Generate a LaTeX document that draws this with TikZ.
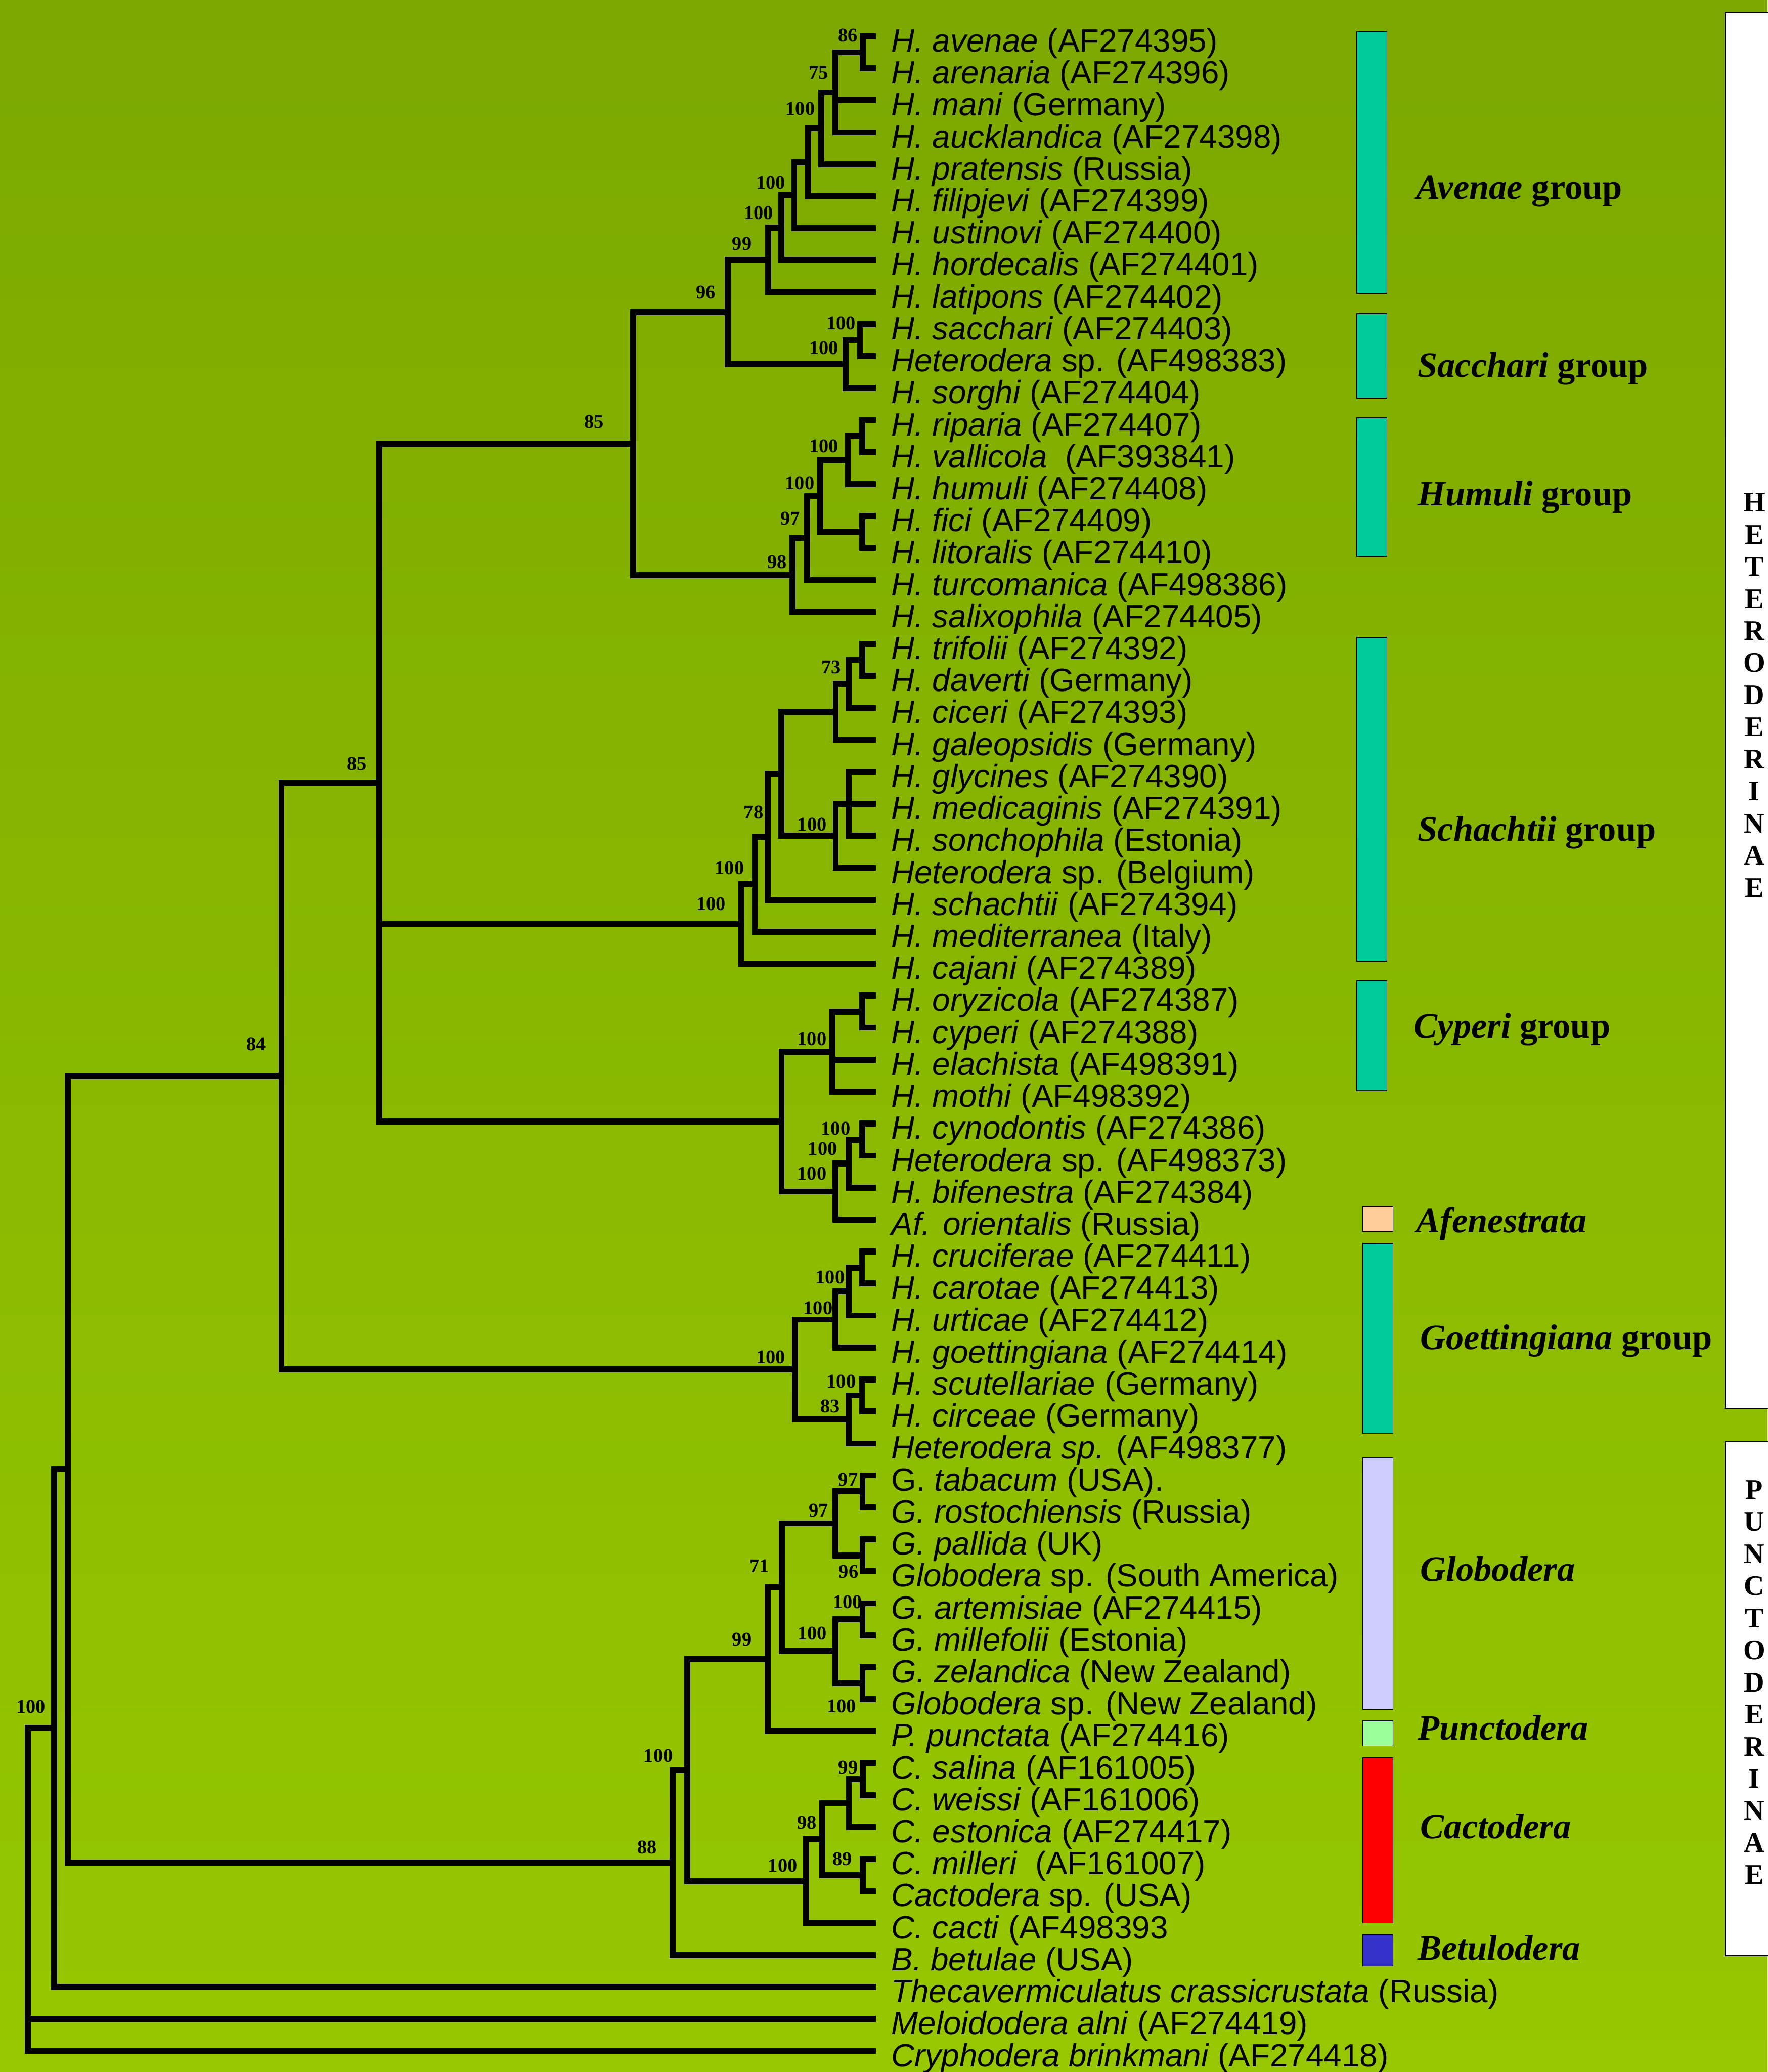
\documentclass[tikz,border=0pt]{standalone}
\usepackage{fontspec}
\setmainfont{Liberation Serif}
\newfontfamily\leaffont{Liberation Sans}
\usetikzlibrary{positioning}
\definecolor{bgTop}{RGB}{124,168,0}
\definecolor{bgBottom}{RGB}{150,199,0}
\definecolor{barTeal}{RGB}{0,204,153}
\definecolor{afenPeach}{RGB}{255,204,153}
\definecolor{globoLavender}{RGB}{204,204,255}
\definecolor{punctoMint}{RGB}{153,255,153}
\definecolor{cactoRed}{RGB}{255,0,0}
\definecolor{betuloBlue}{RGB}{51,51,204}
\tikzset{
  treeBranch/.style={line width=4.5pt, line join=miter},
  leafLabel/.style={anchor=west, inner xsep=11.5pt, inner ysep=0pt, text height=23.4pt, text depth=0pt, font=\leaffont\fontsize{24.4}{24.4}\selectfont},
  bootLabel/.style={inner sep=0pt, font=\bfseries\fontsize{14.7}{14.7}\selectfont},
  groupBar/.style={draw=black, line width=0.6pt, anchor=north west, inner sep=0pt, minimum width=22.7pt},
  groupLabel/.style={anchor=base west, inner sep=0pt, font=\bfseries\fontsize{27}{27}\selectfont},
  subfamilyBox/.style={draw=black, fill=white, line width=0.8pt, anchor=north west, inner sep=0pt, minimum width=45pt},
  subfamilyLetter/.style={inner sep=0pt, align=center, font=\bfseries\fontsize{21.5}{24.3}\selectfont}
}
\begin{document}
\begin{tikzpicture}[x=1pt, y=-1pt]
  \useasboundingbox (0,0) rectangle (1338,1568);
  \shade[top color=bgTop, bottom color=bgBottom] (0,0) rectangle (1338,1568);

  % subfamily boxes
  \node[subfamilyBox, minimum height=1056pt] (hetBox) at (1305.2,9.3) {};
  \node[subfamilyBox, minimum height=388.9pt] (punBox) at (1305.2,1090.6) {};
  \node[subfamilyLetter] (hetName) at (1327.9,526) {H\\E\\T\\E\\R\\O\\D\\E\\R\\I\\N\\A\\E};
  \node[subfamilyLetter] (punName) at (1327.9,1273.1) {P\\U\\N\\C\\T\\O\\D\\E\\R\\I\\N\\A\\E};

  % group bars and names
  \node[groupBar, fill=barTeal, minimum height=198pt] (avenaeBar) at (1026.8,23.7) {};
  \node[groupBar, fill=barTeal, minimum height=64pt] (sacchariBar) at (1026.8,237) {};
  \node[groupBar, fill=barTeal, minimum height=105pt] (humuliBar) at (1026.8,316) {};
  \node[groupBar, fill=barTeal, minimum height=245pt] (schachtiiBar) at (1026.8,482) {};
  \node[groupBar, fill=barTeal, minimum height=83pt] (cyperiBar) at (1026.8,742) {};
  \node[groupBar, fill=afenPeach, minimum height=18.8pt] (afenBox) at (1031.4,912.8) {};
  \node[groupBar, fill=barTeal, minimum height=143.7pt] (goettBar) at (1031.4,940.7) {};
  \node[groupBar, fill=globoLavender, minimum height=190.4pt] (globoBar) at (1031.4,1102.8) {};
  \node[groupBar, fill=punctoMint, minimum height=18.9pt] (punctoBox) at (1031.4,1302) {};
  \node[groupBar, fill=cactoRed, minimum height=125.2pt] (cactoBar) at (1031.4,1329.7) {};
  \node[groupBar, fill=betuloBlue, minimum height=23.5pt] (betuloBox) at (1031.4,1464) {};

  \node[groupLabel] (avenaeName) at (1072,150.5) {\textit{Avenae} group};
  \node[groupLabel] (sacchariName) at (1073,285.5) {\textit{Sacchari} group};
  \node[groupLabel] (humuliName) at (1073,382.5) {\textit{Humuli} group};
  \node[groupLabel] (schachtiiName) at (1073,636.5) {\textit{Schachtii} group};
  \node[groupLabel] (cyperiName) at (1070,785.5) {\textit{Cyperi} group};
  \node[groupLabel] (afenName) at (1072,932.9) {\textit{Afenestrata}};
  \node[groupLabel] (goettName) at (1075,1021.1) {\textit{Goettingiana} group};
  \node[groupLabel] (globoName) at (1075,1196.3) {\textit{Globodera}};
  \node[groupLabel] (punctoName) at (1073,1316.7) {\textit{Punctodera}};
  \node[groupLabel] (cactoName) at (1075,1391.2) {\textit{Cactodera}};
  \node[groupLabel] (betuloName) at (1073,1483.3) {\textit{Betulodera}};

  % taxa
  \node[leafLabel] (l1) at (663,27.5) {\textit{H. avenae} (AF274395)};
  \node[leafLabel] (l2) at (663,51.7) {\textit{H. arenaria} (AF274396)};
  \node[leafLabel] (l3) at (663,75.9) {\textit{H. mani} (Germany)};
  \node[leafLabel] (l4) at (663,100.1) {\textit{H. aucklandica} (AF274398)};
  \node[leafLabel] (l5) at (663,124.3) {\textit{H. pratensis} (Russia)};
  \node[leafLabel] (l6) at (663,148.5) {\textit{H. filipjevi} (AF274399)};
  \node[leafLabel] (l7) at (663,172.7) {\textit{H. ustinovi} (AF274400)};
  \node[leafLabel] (l8) at (663,196.9) {\textit{H. hordecalis} (AF274401)};
  \node[leafLabel] (l9) at (663,221.1) {\textit{H. latipons} (AF274402)};
  \node[leafLabel] (l10) at (663,245.3) {\textit{H. sacchari} (AF274403)};
  \node[leafLabel] (l11) at (663,269.5) {\textit{Heterodera} sp. (AF498383)};
  \node[leafLabel] (l12) at (663,293.7) {\textit{H. sorghi} (AF274404)};
  \node[leafLabel] (l13) at (663,317.9) {\textit{H. riparia} (AF274407)};
  \node[leafLabel] (l14) at (663,342.1) {\textit{H. vallicola}\ \ (AF393841)};
  \node[leafLabel] (l15) at (663,366.3) {\textit{H. humuli} (AF274408)};
  \node[leafLabel] (l16) at (663,390.5) {\textit{H. fici} (AF274409)};
  \node[leafLabel] (l17) at (663,414.7) {\textit{H. litoralis} (AF274410)};
  \node[leafLabel] (l18) at (663,438.9) {\textit{H. turcomanica} (AF498386)};
  \node[leafLabel] (l19) at (663,463.1) {\textit{H. salixophila} (AF274405)};
  \node[leafLabel] (l20) at (663,487.3) {\textit{H. trifolii} (AF274392)};
  \node[leafLabel] (l21) at (663,511.5) {\textit{H. daverti} (Germany)};
  \node[leafLabel] (l22) at (663,535.7) {\textit{H. ciceri} (AF274393)};
  \node[leafLabel] (l23) at (663,559.9) {\textit{H. galeopsidis} (Germany)};
  \node[leafLabel] (l24) at (663,584.1) {\textit{H. glycines} (AF274390)};
  \node[leafLabel] (l25) at (663,608.3) {\textit{H. medicaginis} (AF274391)};
  \node[leafLabel] (l26) at (663,632.5) {\textit{H. sonchophila} (Estonia)};
  \node[leafLabel] (l27) at (663,656.7) {\textit{Heterodera} sp. (Belgium)};
  \node[leafLabel] (l28) at (663,680.9) {\textit{H. schachtii} (AF274394)};
  \node[leafLabel] (l29) at (663,705.1) {\textit{H. mediterranea} (Italy)};
  \node[leafLabel] (l30) at (663,729.3) {\textit{H. cajani} (AF274389)};
  \node[leafLabel] (l31) at (663,753.5) {\textit{H. oryzicola} (AF274387)};
  \node[leafLabel] (l32) at (663,777.7) {\textit{H. cyperi} (AF274388)};
  \node[leafLabel] (l33) at (663,801.9) {\textit{H. elachista} (AF498391)};
  \node[leafLabel] (l34) at (663,826.1) {\textit{H. mothi} (AF498392)};
  \node[leafLabel] (l35) at (663,850.3) {\textit{H. cynodontis} (AF274386)};
  \node[leafLabel] (l36) at (663,874.5) {\textit{Heterodera} sp. (AF498373)};
  \node[leafLabel] (l37) at (663,898.7) {\textit{H. bifenestra} (AF274384)};
  \node[leafLabel] (l38) at (663,922.9) {\textit{Af. orientalis} (Russia)};
  \node[leafLabel] (l39) at (663,947.1) {\textit{H. cruciferae} (AF274411)};
  \node[leafLabel] (l40) at (663,971.3) {\textit{H. carotae} (AF274413)};
  \node[leafLabel] (l41) at (663,995.5) {\textit{H. urticae} (AF274412)};
  \node[leafLabel] (l42) at (663,1019.7) {\textit{H. goettingiana} (AF274414)};
  \node[leafLabel] (l43) at (663,1043.9) {\textit{H. scutellariae} (Germany)};
  \node[leafLabel] (l44) at (663,1068.1) {\textit{H. circeae} (Germany)};
  \node[leafLabel] (l45) at (663,1092.3) {\textit{Heterodera sp.} (AF498377)};
  \node[leafLabel] (l46) at (663,1116.5) {G. \textit{tabacum} (USA).};
  \node[leafLabel] (l47) at (663,1140.7) {\textit{G. rostochiensis} (Russia)};
  \node[leafLabel] (l48) at (663,1164.9) {\textit{G. pallida} (UK)};
  \node[leafLabel] (l49) at (663,1189.1) {\textit{Globodera} sp. (South America)};
  \node[leafLabel] (l50) at (663,1213.3) {\textit{G. artemisiae} (AF274415)};
  \node[leafLabel] (l51) at (663,1237.5) {\textit{G. millefolii} (Estonia)};
  \node[leafLabel] (l52) at (663,1261.7) {\textit{G. zelandica} (New Zealand)};
  \node[leafLabel] (l53) at (663,1285.9) {\textit{Globodera} sp. (New Zealand)};
  \node[leafLabel] (l54) at (663,1310.1) {\textit{P. punctata} (AF274416)};
  \node[leafLabel] (l55) at (663,1334.3) {\textit{C. salina} (AF161005)};
  \node[leafLabel] (l56) at (663,1358.5) {\textit{C. weissi} (AF161006)};
  \node[leafLabel] (l57) at (663,1382.7) {\textit{C. estonica} (AF274417)};
  \node[leafLabel] (l58) at (663,1406.9) {\textit{C. milleri}\ \ (AF161007)};
  \node[leafLabel] (l59) at (663,1431.1) {\textit{Cactodera} sp. (USA)};
  \node[leafLabel] (l60) at (663,1455.3) {\textit{C. cacti} (AF498393};
  \node[leafLabel] (l61) at (663,1479.5) {\textit{B. betulae} (USA)};
  \node[leafLabel] (l62) at (663,1503.7) {\textit{Thecavermiculatus crassicrustata} (Russia)};
  \node[leafLabel] (l63) at (663,1527.9) {\textit{Meloidodera alni} (AF274419)};
  \node[leafLabel] (l64) at (663,1552.1) {\textit{Cryphodera brinkmani} (AF274418)};

  % internal nodes
  \coordinate (av86) at (653,39.6);
  \coordinate (av75) at (632.4,69.85);
  \coordinate (av100a) at (621.8,97.08);
  \coordinate (av6) at (611.8,122.79);
  \coordinate (av100b) at (601.2,147.74);
  \coordinate (av100c) at (591.3,172.32);
  \coordinate (av99) at (581.4,196.71);
  \coordinate (sa1) at (651,257.4);
  \coordinate (sa2) at (640,275.55);
  \coordinate (hs96) at (551,236.13);
  \coordinate (hu1) at (652.8,330.0);
  \coordinate (hu2) at (641.8,348.15);
  \coordinate (hu3) at (652.8,402.6);
  \coordinate (hu4) at (620.9,375.38);
  \coordinate (hu5) at (610.9,407.14);
  \coordinate (hu6) at (600,435.12);
  \coordinate (n85a) at (479.4,335.63);
  \coordinate (sc1) at (652.7,499.4);
  \coordinate (sc2) at (642.4,517.55);
  \coordinate (sc3) at (632.6,538.73);
  \coordinate (sc4) at (642.4,608.3);
  \coordinate (sc5) at (632.6,632.5);
  \coordinate (sc6) at (591.4,585.61);
  \coordinate (sc7) at (581,633.26);
  \coordinate (sc8) at (571.3,669.18);
  \coordinate (sc9) at (561,699.24);
  \coordinate (cy1) at (652.7,765.6);
  \coordinate (cy2) at (630.2,795.85);
  \coordinate (cy3) at (652.7,862.4);
  \coordinate (cy4) at (642.4,880.55);
  \coordinate (cy5) at (632.3,901.73);
  \coordinate (cy6) at (591.6,848.79);
  \coordinate (n85b) at (287,592.21);
  \coordinate (go1) at (652.5,959.2);
  \coordinate (go2) at (642.4,977.35);
  \coordinate (go3) at (632.4,998.53);
  \coordinate (go4) at (652.5,1056.0);
  \coordinate (go5) at (642.4,1074.15);
  \coordinate (go6) at (601.7,1036.34);
  \coordinate (n84) at (213,814.28);
  \coordinate (gl1) at (652.9,1128.6);
  \coordinate (gl2) at (652.9,1177.0);
  \coordinate (gl3) at (632.5,1152.8);
  \coordinate (gl4) at (652.9,1225.4);
  \coordinate (gl5) at (652.9,1273.8);
  \coordinate (gl6) at (632.5,1249.6);
  \coordinate (gl7) at (591.7,1201.2);
  \coordinate (gl8) at (581.2,1255.65);
  \coordinate (ca1) at (653,1346.4);
  \coordinate (ca2) at (642.5,1364.55);
  \coordinate (ca3) at (653,1419.0);
  \coordinate (ca4) at (622.3,1391.78);
  \coordinate (ca5) at (610.1,1423.54);
  \coordinate (pu100) at (520.2,1339.6);
  \coordinate (pu88) at (509,1409.55);
  \coordinate (n51) at (51.3,1111.9);
  \coordinate (n41) at (41.1,1307.8);
  \coordinate (root) at (21,1307.8);

  % branches
  \draw[treeBranch] (av86) |- (l1.west) (av86) |- (l2.west);
  \draw[treeBranch] (av75) |- (av86) (av75) |- (l3.west) (av75) |- (l4.west);
  \draw[treeBranch] (av100a) |- (av75) (av100a) |- (l5.west);
  \draw[treeBranch] (av6) |- (av100a) (av6) |- (l6.west);
  \draw[treeBranch] (av100b) |- (av6) (av100b) |- (l7.west);
  \draw[treeBranch] (av100c) |- (av100b) (av100c) |- (l8.west);
  \draw[treeBranch] (av99) |- (av100c) (av99) |- (l9.west);
  \draw[treeBranch] (sa1) |- (l10.west) (sa1) |- (l11.west);
  \draw[treeBranch] (sa2) |- (sa1) (sa2) |- (l12.west);
  \draw[treeBranch] (hs96) |- (av99) (hs96) |- (sa2);
  \draw[treeBranch] (hu1) |- (l13.west) (hu1) |- (l14.west);
  \draw[treeBranch] (hu2) |- (hu1) (hu2) |- (l15.west);
  \draw[treeBranch] (hu3) |- (l16.west) (hu3) |- (l17.west);
  \draw[treeBranch] (hu4) |- (hu2) (hu4) |- (hu3);
  \draw[treeBranch] (hu5) |- (hu4) (hu5) |- (l18.west);
  \draw[treeBranch] (hu6) |- (hu5) (hu6) |- (l19.west);
  \draw[treeBranch] (n85a) |- (hs96) (n85a) |- (hu6);
  \draw[treeBranch] (sc1) |- (l20.west) (sc1) |- (l21.west);
  \draw[treeBranch] (sc2) |- (sc1) (sc2) |- (l22.west);
  \draw[treeBranch] (sc3) |- (sc2) (sc3) |- (l23.west);
  \draw[treeBranch] (sc4) |- (l24.west) (sc4) -- (l25.west) (sc4) |- (l26.west);
  \draw[treeBranch] (sc5) |- (sc4) (sc5) |- (l27.west);
  \draw[treeBranch] (sc6) |- (sc3) (sc6) |- (sc5);
  \draw[treeBranch] (sc7) |- (sc6) (sc7) |- (l28.west);
  \draw[treeBranch] (sc8) |- (sc7) (sc8) |- (l29.west);
  \draw[treeBranch] (sc9) |- (sc8) (sc9) |- (l30.west);
  \draw[treeBranch] (cy1) |- (l31.west) (cy1) |- (l32.west);
  \draw[treeBranch] (cy2) |- (cy1) (cy2) |- (l33.west) (cy2) |- (l34.west);
  \draw[treeBranch] (cy3) |- (l35.west) (cy3) |- (l36.west);
  \draw[treeBranch] (cy4) |- (cy3) (cy4) |- (l37.west);
  \draw[treeBranch] (cy5) |- (cy4) (cy5) |- (l38.west);
  \draw[treeBranch] (cy6) |- (cy2) (cy6) |- (cy5);
  \draw[treeBranch] (n85b) |- (n85a) (n85b) |- (sc9) (n85b) |- (cy6);
  \draw[treeBranch] (go1) |- (l39.west) (go1) |- (l40.west);
  \draw[treeBranch] (go2) |- (go1) (go2) |- (l41.west);
  \draw[treeBranch] (go3) |- (go2) (go3) |- (l42.west);
  \draw[treeBranch] (go4) |- (l43.west) (go4) |- (l44.west);
  \draw[treeBranch] (go5) |- (go4) (go5) |- (l45.west);
  \draw[treeBranch] (go6) |- (go3) (go6) |- (go5);
  \draw[treeBranch] (n84) |- (n85b) (n84) |- (go6);
  \draw[treeBranch] (gl1) |- (l46.west) (gl1) |- (l47.west);
  \draw[treeBranch] (gl2) |- (l48.west) (gl2) |- (l49.west);
  \draw[treeBranch] (gl3) |- (gl1) (gl3) |- (gl2);
  \draw[treeBranch] (gl4) |- (l50.west) (gl4) |- (l51.west);
  \draw[treeBranch] (gl5) |- (l52.west) (gl5) |- (l53.west);
  \draw[treeBranch] (gl6) |- (gl4) (gl6) |- (gl5);
  \draw[treeBranch] (gl7) |- (gl3) (gl7) |- (gl6);
  \draw[treeBranch] (gl8) |- (gl7) (gl8) |- (l54.west);
  \draw[treeBranch] (ca1) |- (l55.west) (ca1) |- (l56.west);
  \draw[treeBranch] (ca2) |- (ca1) (ca2) |- (l57.west);
  \draw[treeBranch] (ca3) |- (l58.west) (ca3) |- (l59.west);
  \draw[treeBranch] (ca4) |- (ca2) (ca4) |- (ca3);
  \draw[treeBranch] (ca5) |- (ca4) (ca5) |- (l60.west);
  \draw[treeBranch] (pu100) |- (gl8) (pu100) |- (ca5);
  \draw[treeBranch] (pu88) |- (pu100) (pu88) |- (l61.west);
  \draw[treeBranch] (n51) |- (n84) (n51) |- (pu88);
  \draw[treeBranch] (n41) |- (n51) (n41) |- (l62.west);
  \draw[treeBranch] (n41) -- (root) |- (l64.west);
  \draw[treeBranch] (root |- l63.west) -- (l63.west);

  % bootstrap values
  \node[bootLabel] (bAv86) at (641.9,26.7) {86};
  \node[bootLabel] (bAv75) at (619.6,55.0) {75};
  \node[bootLabel] (bAv100a) at (605.8,82.4) {100};
  \node[bootLabel] (bAv100b) at (583.4,138.1) {100};
  \node[bootLabel] (bAv100c) at (574.3,161.3) {100};
  \node[bootLabel] (bAv99) at (561.6,184.4) {99};
  \node[bootLabel] (bHs96) at (534.2,221.2) {96};
  \node[bootLabel] (bSa1) at (636.7,244.7) {100};
  \node[bootLabel] (bSa2) at (623.6,263.4) {100};
  \node[bootLabel] (bN85a) at (449.6,319.1) {85};
  \node[bootLabel] (bHu2) at (623.6,337.6) {100};
  \node[bootLabel] (bHu4) at (605.4,365.4) {100};
  \node[bootLabel] (bHu5) at (598.1,392.3) {97};
  \node[bootLabel] (bHu6) at (588.1,425.4) {98};
  \node[bootLabel] (bSc2) at (629.2,505.0) {73};
  \node[bootLabel] (bN85b) at (270,578) {85};
  \node[bootLabel] (bSc7) at (570.4,614.8) {78};
  \node[bootLabel] (bSc5) at (614.7,623.9) {100};
  \node[bootLabel] (bSc8) at (552.2,656.7) {100};
  \node[bootLabel] (bSc9) at (538.2,684.2) {100};
  \node[bootLabel] (bCy2) at (614.6,786.3) {100};
  \node[bootLabel] (bN84) at (194,790) {84};
  \node[bootLabel] (bCy3) at (632.6,853.9) {100};
  \node[bootLabel] (bCy4) at (622.7,869.3) {100};
  \node[bootLabel] (bCy5) at (614.6,887.9) {100};
  \node[bootLabel] (bGo2) at (628.4,966.7) {100};
  \node[bootLabel] (bGo3) at (619.2,990.1) {100};
  \node[bootLabel] (bGo6) at (583.4,1027.2) {100};
  \node[bootLabel] (bGo4) at (636.8,1045.6) {100};
  \node[bootLabel] (bGo5) at (628.4,1064.3) {83};
  \node[bootLabel] (bGl1) at (642.0,1119.8) {97};
  \node[bootLabel] (bGl3) at (619.6,1143.1) {97};
  \node[bootLabel] (bGl7) at (574.9,1185.0) {71};
  \node[bootLabel] (bGl2) at (642.4,1189.5) {96};
  \node[bootLabel] (bGl4) at (641.6,1212.3) {100};
  \node[bootLabel] (bGl6) at (614.8,1236.0) {100};
  \node[bootLabel] (bGl8) at (561.6,1240.5) {99};
  \node[bootLabel] (bGl5) at (637.1,1291.1) {100};
  \node[bootLabel] (bPu100) at (498.3,1328.7) {100};
  \node[bootLabel] (bCa1) at (642.0,1337.7) {99};
  \node[bootLabel] (bCa4) at (610.9,1379.1) {98};
  \node[bootLabel] (bPu88) at (489.8,1397.8) {88};
  \node[bootLabel] (bCa3) at (637.6,1406.9) {89};
  \node[bootLabel] (bCa5) at (592.5,1411.6) {100};
  \node[bootLabel] (bN41) at (23.5,1291.4) {100};
\end{tikzpicture}
\end{document}
